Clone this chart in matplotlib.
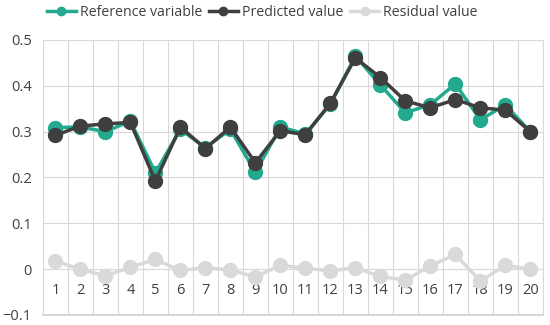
import matplotlib
matplotlib.use("Agg")
import matplotlib.pyplot as plt
import numpy as np

plt.rcParams["font.family"] = ["Open Sans", "DejaVu Sans"]

categories = list(range(1, 21))
reference = [0.309, 0.31, 0.30, 0.323, 0.21, 0.305, 0.265, 0.305, 0.211, 0.31,
             0.295, 0.36, 0.465, 0.402, 0.341, 0.359, 0.404, 0.326, 0.358, 0.30]
predicted = [0.292, 0.312, 0.317, 0.32, 0.192, 0.31, 0.263, 0.31, 0.232, 0.302,
             0.293, 0.362, 0.461, 0.418, 0.367, 0.352, 0.37, 0.352, 0.347, 0.30]
residual = [0.017, 0.0, -0.015, 0.004, 0.021, -0.003, 0.003, -0.002, -0.017, 0.008,
            0.002, -0.004, 0.003, -0.016, -0.024, 0.007, 0.032, -0.026, 0.008, 0.0]
y_ticks = [-0.1, 0, 0.1, 0.2, 0.3, 0.4, 0.5]
y_labels = ["\u22120.1", "0", "0.1", "0.2", "0.3", "0.4", "0.5"]

TEAL = "#22a98e"
DARK = "#3f3f3f"
GREY = "#d9d9d9"

fig = plt.figure(figsize=(5.5, 3.25), dpi=100)
ax = fig.add_axes([0.078, 0.031, 0.909, 0.846])

style = dict(linewidth=2.5, marker="o", markersize=10)
ax.plot(categories, residual, color=GREY, label="Residual value", zorder=3, **style)
ax.plot(categories, reference, color=TEAL, label="Reference variable", zorder=4, **style)
ax.plot(categories, predicted, color=DARK, label="Predicted value", zorder=5, **style)

ax.set_xlim(0.5, 20.5)
ax.set_ylim(-0.1, 0.5)
ax.set_yticks(y_ticks)
ax.set_yticklabels(y_labels)
ax.set_xticks(categories)
ax.set_xticklabels([str(c) for c in categories])
ax.set_xticks(np.arange(0.5, 21, 1), minor=True)

# category axis sits on the zero line, Excel style
ax.spines["bottom"].set_position(("data", 0))
ax.spines["bottom"].set_color("#d9d9d9")
for side in ["top", "left", "right"]:
    ax.spines[side].set_color("#d9d9d9")
ax.plot([0, 1], [0, 0], transform=ax.transAxes, color="#cfcfcf", lw=1.2, clip_on=False)

ax.tick_params(axis="both", which="both", length=0, labelsize=10.5, colors="#404040")
ax.tick_params(axis="x", pad=10)
ax.tick_params(axis="y", pad=8)
ax.grid(True, which="minor", axis="x", color="#d9d9d9", linewidth=0.8)
ax.grid(True, which="major", axis="y", color="#d9d9d9", linewidth=0.8)
ax.grid(False, which="major", axis="x")
ax.set_axisbelow(True)

handles, labels = ax.get_legend_handles_labels()
order = [1, 2, 0]
fig.legend([handles[i] for i in order], [labels[i] for i in order],
           loc="upper center", bbox_to_anchor=(0.477, 1.025), ncol=3, frameon=False,
           fontsize=10.2, handlelength=2.0, handletextpad=0.3, columnspacing=0.5,
           markerscale=0.6, labelcolor="#404040")

fig.savefig("out.png", dpi=100)
